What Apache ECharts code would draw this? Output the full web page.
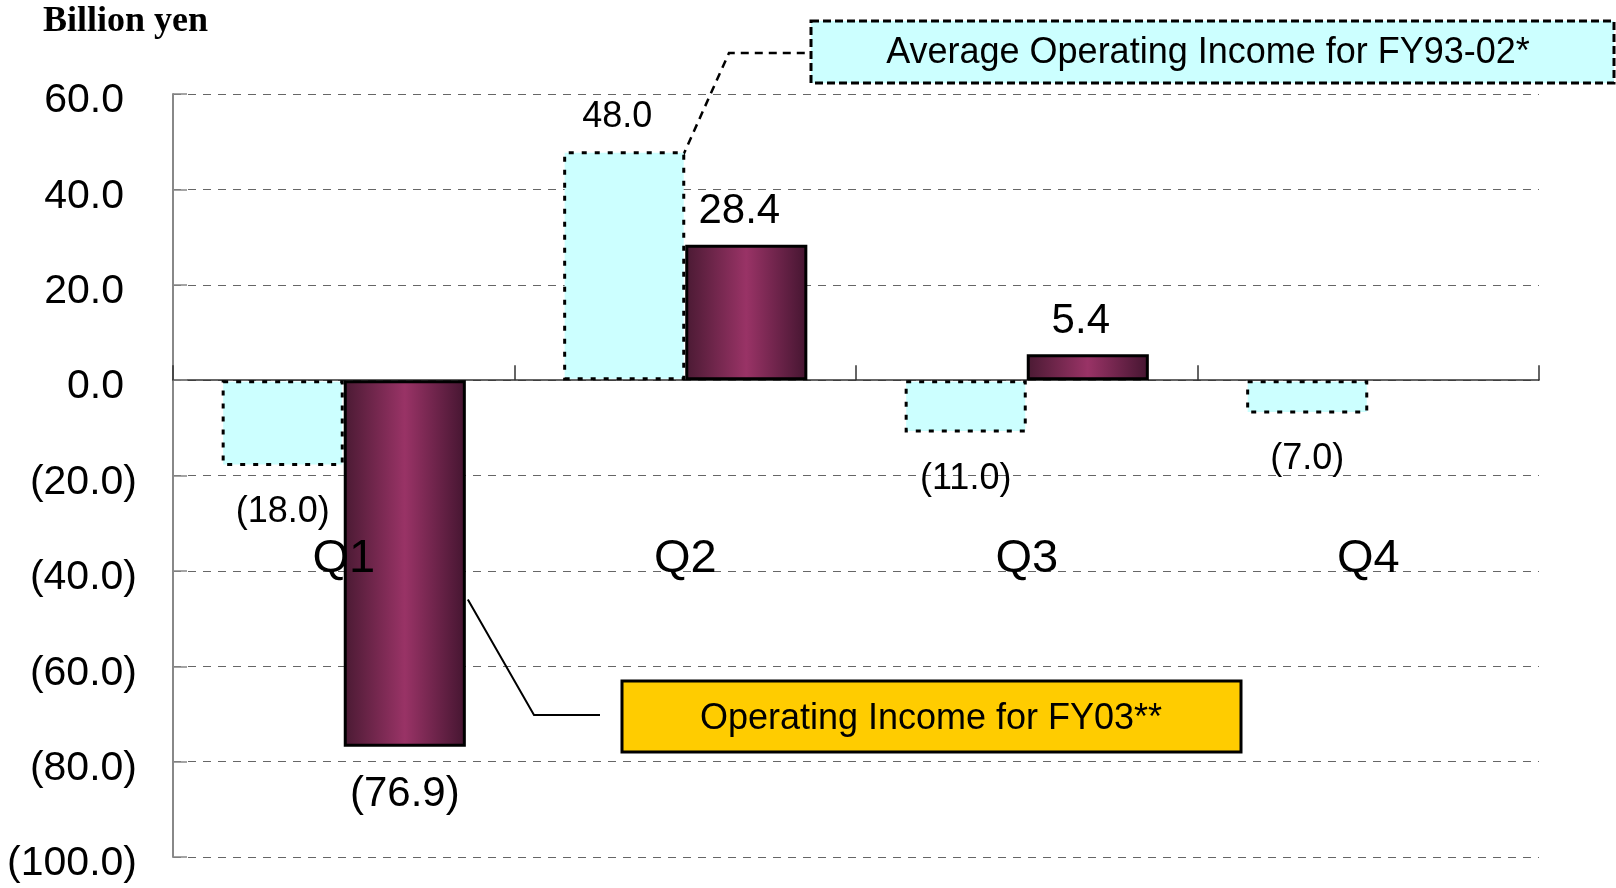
<!DOCTYPE html>
<html>
<head>
<meta charset="utf-8">
<script src="https://cdn.jsdelivr.net/npm/echarts@6/dist/echarts.min.js"></script>
<style>
  html, body { margin: 0; padding: 0; background: #fff; }
  #chart { width: 1616px; height: 888px; }
</style>
</head>
<body>
<div id="chart"></div>
<script>
// quarters and values (billion yen)
var quarters = ['Q1', 'Q2', 'Q3', 'Q4'];
var avgIncome = [-18.0, 48.0, -11.0, -7.0];      // Average Operating Income for FY93-02*
var fy03Income = [-76.9, 28.4, 5.4, null];       // Operating Income for FY03**
var yTicks = { min: -100, max: 60, step: 20 };

var sans = '"Liberation Sans Narrow", "Liberation Sans", Arial, sans-serif';

function fmt(v) {
    if (v < 0) return '(' + (-v).toFixed(1) + ')';
    return v.toFixed(1);
}

// label under negative bars, above positive ones
function labelFor(v, size, dist) {
    return {
        show: true,
        position: v < 0 ? 'bottom' : 'top',
        distance: dist,
        offset: v < 0 ? [0, 0] : [-7, 0],
        fontFamily: sans,
        fontSize: size,
        color: '#000',
        formatter: function (p) { return fmt(p.value); }
    };
}

var chart = echarts.init(document.getElementById('chart'));

var option = {
    animation: false,
    backgroundColor: '#fff',
    grid: { left: 173, right: 77, top: 94, bottom: 31, containLabel: false, outerBoundsMode: 'none' },
    xAxis: [
        {
            // category names, sitting inside the plot like the original
            type: 'category',
            data: quarters,
            position: 'bottom',
            z: 10,
            axisLine: { show: false, onZero: false },
            axisTick: { show: false },
            axisLabel: { margin: -321, fontFamily: sans, fontSize: 47, color: '#000' },
            splitLine: { show: false }
        },
        {
            // zero line with the small boundary ticks
            type: 'category',
            data: quarters,
            position: 'bottom',
            axisLine: { show: true, onZero: true, onZeroAxisIndex: 0, lineStyle: { color: '#333', width: 1.5 } },
            axisTick: { show: true, inside: true, length: 15, lineStyle: { color: '#333', width: 1.5 } },
            axisLabel: { show: false },
            splitLine: { show: false }
        }
    ],
    yAxis: {
        type: 'value',
        min: yTicks.min,
        max: yTicks.max,
        interval: yTicks.step,
        axisLine: { show: true, lineStyle: { color: '#888', width: 2 } },
        axisTick: { show: true, inside: true, length: 14, lineStyle: { color: '#888', width: 1.5 } },
        axisLabel: {
            margin: 36,
            formatter: function (v) {
                return v < 0 ? '{n|' + fmt(v) + '}' : '{p|' + fmt(v) + '}';
            },
            rich: {
                n: { fontFamily: sans, fontSize: 41, color: '#000', padding: [14, 0, 0, 0] },
                p: { fontFamily: sans, fontSize: 41, color: '#000', padding: [14, 13, 0, 0] }
            }
        },
        splitLine: { show: true, lineStyle: { color: '#666', width: 1.2, type: [8, 7] } }
    },
    series: [
        {
            name: 'Average Operating Income for FY93-02*',
            type: 'bar',
            barGap: '0%',
            barCategoryGap: '28.5%',
            data: avgIncome.map(function (v) {
                return { value: v, label: labelFor(v, 36, v < 0 ? 28 : 16) };
            }),
            itemStyle: {
                color: '#CCFFFF',
                borderColor: '#000',
                borderWidth: 3,
                borderType: [5, 8]
            }
        },
        {
            name: 'Operating Income for FY03**',
            type: 'bar',
            data: fy03Income.map(function (v) {
                if (v === null) return null;
                return { value: v, label: labelFor(v, 42, v < 0 ? 27 : 12) };
            }),
            itemStyle: {
                color: new echarts.graphic.LinearGradient(0, 0, 1, 0, [
                    { offset: 0, color: '#4a1a33' },
                    { offset: 0.5, color: '#993366' },
                    { offset: 1, color: '#441530' }
                ]),
                borderColor: '#000',
                borderWidth: 3
            }
        }
    ]
};
chart.setOption(option);

// annotation boxes and leader lines, anchored on the bars through the axes
var q1 = chart.convertToPixel({ xAxisIndex: 0, yAxisIndex: 0 }, ['Q1', -46]);
var q2 = chart.convertToPixel({ xAxisIndex: 0, yAxisIndex: 0 }, ['Q2', avgIncome[1]]);
var band = q2[0] - q1[0];
var bw = band * (1 - 0.285) / 2;

chart.setOption({
    graphic: [
        {
            type: 'text', left: 43, top: 4,
            style: { text: 'Billion yen', font: 'bold 36px "Liberation Serif", "Times New Roman", serif', fill: '#000' }
        },
        {
            type: 'polyline',
            shape: { points: [[q2[0] - 3, q2[1] + 6], [729, 53], [811, 53]] },
            style: { stroke: '#000', lineWidth: 2.5, lineDash: [8, 6], fill: null }
        },
        {
            type: 'rect',
            shape: { x: 811, y: 21, width: 803, height: 62 },
            style: { fill: '#CCFFFF', stroke: '#000', lineWidth: 3, lineDash: [8, 4] }
        },
        {
            type: 'text', x: 1208, y: 53,
            style: { text: 'Average Operating Income for FY93-02*', font: '36px "Liberation Sans", Arial, sans-serif', fill: '#000', align: 'center', verticalAlign: 'middle' }
        },
        {
            type: 'polyline',
            shape: { points: [[q1[0] + bw + 2, q1[1]], [534, 715], [600, 715]] },
            style: { stroke: '#000', lineWidth: 2, fill: null }
        },
        {
            type: 'rect',
            shape: { x: 622, y: 681, width: 619, height: 71 },
            style: { fill: '#FFCC00', stroke: '#000', lineWidth: 3 }
        },
        {
            type: 'text', x: 931, y: 719,
            style: { text: 'Operating Income for FY03**', font: '36px "Liberation Sans", Arial, sans-serif', fill: '#000', align: 'center', verticalAlign: 'middle' }
        }
    ]
});
</script>
</body>
</html>
